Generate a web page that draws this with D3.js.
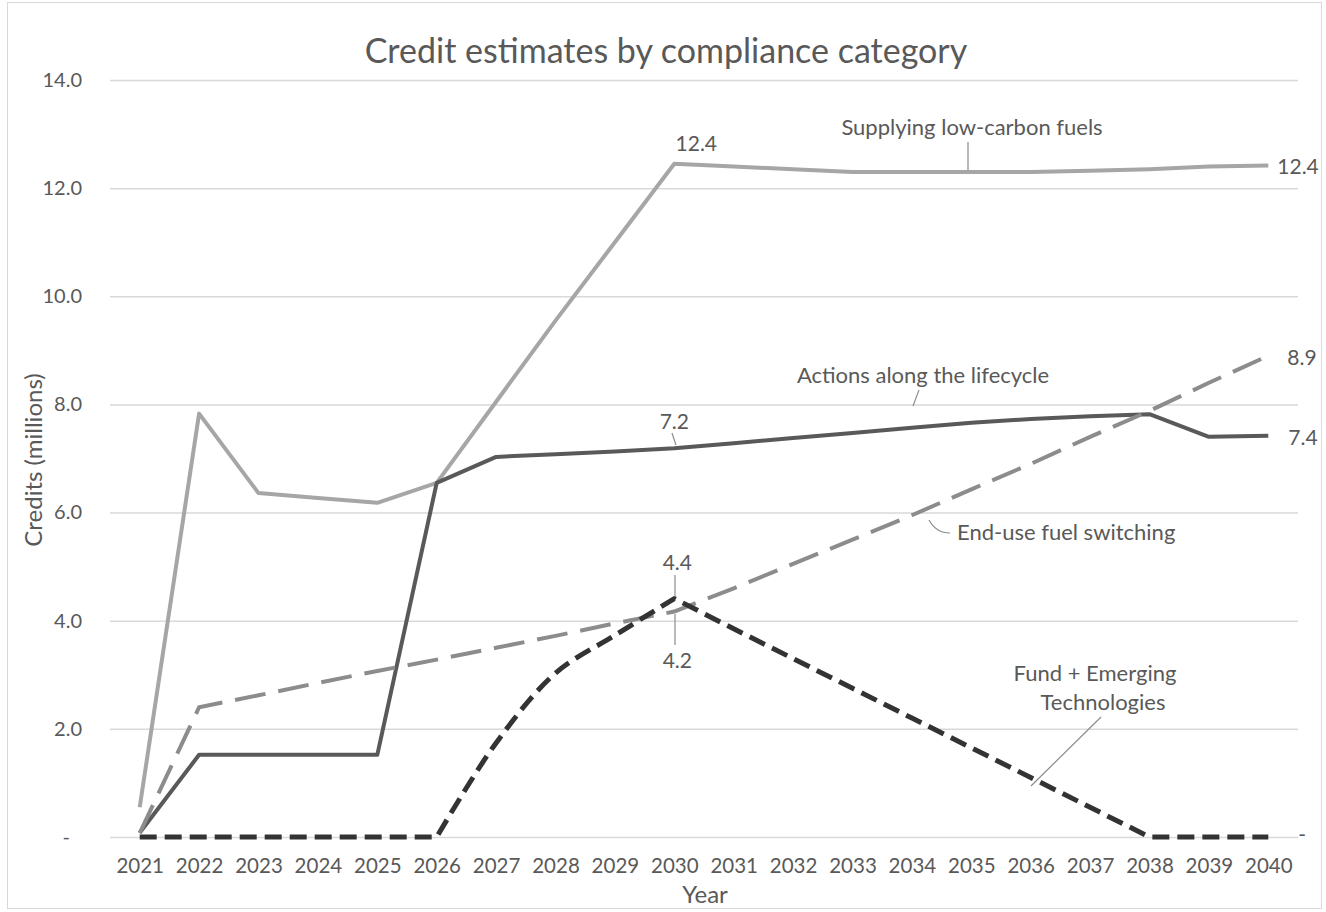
<!DOCTYPE html>
<html>
<head>
<meta charset="utf-8">
<script src="https://cdn.jsdelivr.net/npm/d3@7"></script>
<style>
  html, body { margin: 0; padding: 0; background: #fff; }
  svg { display: block; font-family: Lato, "Open Sans", sans-serif; }
</style>
</head>
<body>
<svg id="chart" width="1326" height="912"></svg>
<script>
const years = [2021,2022,2023,2024,2025,2026,2027,2028,2029,2030,2031,2032,2033,2034,2035,2036,2037,2038,2039,2040];
const lowCarbon = [0.55,7.83,6.36,6.27,6.18,6.55,8.05,9.55,11.0,12.45,12.4,12.35,12.3,12.3,12.3,12.3,12.32,12.35,12.4,12.42];
const lifecycle = [0.08,1.52,1.52,1.52,1.52,6.55,7.03,7.08,7.13,7.19,7.28,7.38,7.47,7.57,7.66,7.73,7.78,7.82,7.40,7.42];
const fuelSwitch = [0.07,2.4,2.62,2.85,3.07,3.28,3.5,3.72,3.95,4.17,4.6,5.05,5.5,5.95,6.43,6.9,7.4,7.88,8.4,8.9];
const fundEmerging = [0,0,0,0,0,0,1.74,3.03,3.73,4.41,3.85,3.3,2.75,2.2,1.65,1.1,0.55,0,0,0];
const yTicks = [0,2,4,6,8,10,12,14];
const title = "Credit estimates by compliance category";

const svg = d3.select("#chart");
const plot = {left: 110, right: 1298, top: 80, bottom: 837};
const textColor = "#595959";

// outer border
svg.append("rect").attr("x", 7.5).attr("y", 2.5).attr("width", 1314).attr("height", 906)
  .attr("fill", "#fff").attr("stroke", "#d9d9d9").attr("stroke-width", 1);

const x = d3.scalePoint().domain(years).range([plot.left, plot.right]).padding(0.5);
const y = d3.scaleLinear().domain([0, 14]).range([plot.bottom, plot.top]);

// gridlines
const grid = svg.append("g").attr("transform", `translate(${plot.left},0)`)
  .call(d3.axisLeft(y).tickValues(yTicks).tickSize(-(plot.right - plot.left)).tickFormat(""));
grid.select(".domain").remove();
grid.selectAll("line").attr("stroke", "#d9d9d9").attr("stroke-width", 1.5);

// y axis labels
const yAxis = svg.append("g").attr("transform", `translate(82,0)`)
  .call(d3.axisLeft(y).tickValues(yTicks).tickSize(0).tickPadding(0)
    .tickFormat(d => d === 0 ? "-" : d.toFixed(1)));
yAxis.select(".domain").remove();
yAxis.selectAll("text").attr("fill", textColor).style("font-size", "20px").style("font-family", "Lato")
  .attr("text-anchor", "end").attr("dx", d => d === 0 ? -12 : 0);

// x axis labels
const xAxis = svg.append("g").attr("transform", `translate(0,${plot.bottom})`)
  .call(d3.axisBottom(x).tickSize(0).tickPadding(21));
xAxis.select(".domain").remove();
xAxis.selectAll("text").attr("fill", textColor).style("font-size", "20.5px").style("font-family", "Lato");

// title
svg.append("text").attr("x", 666).attr("y", 63).attr("text-anchor", "middle")
  .attr("fill", textColor).style("font-size", "34px").text(title);

// axis titles
svg.append("text").attr("transform", "translate(42,460) rotate(-90)").attr("text-anchor", "middle")
  .attr("fill", textColor).style("font-size", "24px").text("Credits (millions)");
svg.append("text").attr("x", 705).attr("y", 903).attr("text-anchor", "middle")
  .attr("fill", textColor).style("font-size", "24px").text("Year");

// lines
const pts = vals => vals.map((v, i) => [x(years[i]), y(v)]);
const lin = d3.line().curve(d3.curveLinear);
svg.append("path").attr("d", lin(pts(lowCarbon))).attr("fill", "none").attr("stroke", "#a6a6a6").attr("stroke-width", 4).attr("stroke-linejoin", "round");
svg.append("path").attr("d", lin(pts(lifecycle))).attr("fill", "none").attr("stroke", "#595959").attr("stroke-width", 4).attr("stroke-linejoin", "round");
svg.append("path").attr("d", lin(pts(fuelSwitch))).attr("fill", "none").attr("stroke", "#8c8c8c").attr("stroke-width", 4).attr("stroke-dasharray", "31 13");

// fund line: smoothed rise 2026-2030, straight elsewhere, drawn as one continuous path
const fp = pts(fundEmerging);
const i2026 = years.indexOf(2026), i2030 = years.indexOf(2030);
const part1 = lin(fp.slice(0, i2026 + 1));
const part2 = d3.line().curve(d3.curveCatmullRom.alpha(0.5))(fp.slice(i2026, i2030 + 1)).replace(/^M/, "L");
const part3 = lin(fp.slice(i2030)).replace(/^M/, "L");
svg.append("path").attr("d", part1 + part2 + part3).attr("fill", "none").attr("stroke", "#333333")
  .attr("stroke-width", 5).attr("stroke-dasharray", "17 8").attr("stroke-linejoin", "round");

// annotations
const ann = svg.append("g").attr("fill", textColor).style("font-size", "22px");
const num = svg.append("g").attr("fill", textColor).style("font-size", "21px");
const leader = (x1, y1, x2, y2) => svg.append("line").attr("x1", x1).attr("y1", y1).attr("x2", x2).attr("y2", y2)
  .attr("stroke", "#8c8c8c").attr("stroke-width", 1.2);
const last = years.length - 1;

num.append("text").attr("x", x(2030) + 22).attr("y", y(lowCarbon[i2030]) - 13).attr("text-anchor", "middle").text(lowCarbon[i2030].toFixed(1));
num.append("text").attr("x", x(2040) + 9).attr("y", y(lowCarbon[last]) + 9).text(lowCarbon[last].toFixed(1));
num.append("text").attr("x", x(2040) + 19).attr("y", y(fuelSwitch[last]) + 9).text(fuelSwitch[last].toFixed(1));
num.append("text").attr("x", x(2040) + 20).attr("y", y(lifecycle[last]) + 9).text(lifecycle[last].toFixed(1));
num.append("text").attr("x", x(2040) + 30).attr("y", y(fundEmerging[last]) + 5).text("-");

ann.append("text").attr("x", 972).attr("y", 135).attr("text-anchor", "middle").text("Supplying low-carbon fuels");
leader(968, 142, 968, 170);
ann.append("text").attr("x", 923).attr("y", 383).attr("text-anchor", "middle").text("Actions along the lifecycle");
leader(919, 390, 913, 406);
num.append("text").attr("x", x(2030)).attr("y", y(lifecycle[i2030]) - 19).attr("text-anchor", "middle").text(lifecycle[i2030].toFixed(1));
leader(672, 433, 676, 445);
ann.append("text").attr("x", 957).attr("y", 540).text("End-use fuel switching");
svg.append("path").attr("d", "M929,520 Q936,533 950,533").attr("fill", "none").attr("stroke", "#8c8c8c").attr("stroke-width", 1.2);
num.append("text").attr("x", x(2030) + 3).attr("y", 570).attr("text-anchor", "middle").text(fundEmerging[i2030].toFixed(1));
leader(675, 575, 675, 597);
num.append("text").attr("x", x(2030) + 3).attr("y", 668).attr("text-anchor", "middle").text(fuelSwitch[i2030].toFixed(1));
leader(675, 614, 675, 645);
ann.append("text").attr("x", 1095).attr("y", 681).attr("text-anchor", "middle").text("Fund + Emerging");
ann.append("text").attr("x", 1103).attr("y", 710).attr("text-anchor", "middle").text("Technologies");
leader(1101, 717, 1031, 786);
</script>
</body>
</html>
